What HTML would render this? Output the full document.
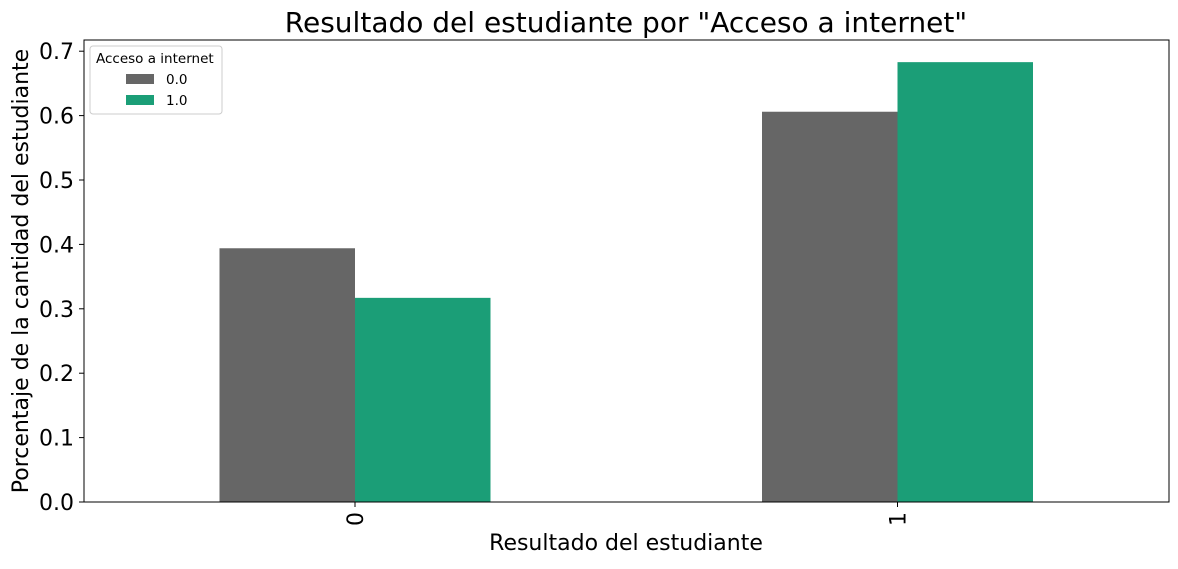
<!DOCTYPE html>
<html><head><meta charset="utf-8"><style>
body{margin:0;background:#fff;}
svg text{font-family:"DejaVu Sans","Liberation Sans",sans-serif;}
</style></head><body>
<svg id="chart" width="1178" height="564" xmlns="http://www.w3.org/2000/svg">
<rect width="1178" height="564" fill="#fff"/>
<text x="626" y="32" font-size="28" text-anchor="middle">Resultado del estudiante por "Acceso a internet"</text>
<g id="bars"></g>
<g id="yticks"></g>
<g id="xticks"></g>
<rect x="84" y="40" width="1085" height="462" fill="none" stroke="#000" stroke-width="1"/>
<text x="626" y="550" font-size="22" text-anchor="middle">Resultado del estudiante</text>
<text transform="translate(28,271) rotate(-90)" font-size="22" text-anchor="middle">Porcentaje de la cantidad del estudiante</text>
<g>
<rect x="90" y="46" width="132" height="68" fill="#fff" stroke="#ccc" rx="3"/>
<text x="96" y="63" font-size="13.5">Acceso a internet</text>
<rect x="126" y="74" width="28" height="10" fill="#666666"/>
<text x="166" y="84" font-size="13.5">0.0</text>
<rect x="126" y="95" width="28" height="10" fill="#1b9e77"/>
<text x="166" y="105" font-size="13.5">1.0</text>
</g>
</svg>
<script>
const categories = ["0", "1"];
const seriesNames = ["0.0", "1.0"];
const series0 = [0.394, 0.606];
const series1 = [0.317, 0.683];
const yTicks = [0.0, 0.1, 0.2, 0.3, 0.4, 0.5, 0.6, 0.7];
const NS = "http://www.w3.org/2000/svg";
const y0 = 502, yScale = 644;
const y = v => y0 - v * yScale;
const x = i => 355 + i * 542.5;
const colors = ["#666666", "#1b9e77"];
const bw = 135.5;
const bars = document.getElementById("bars");
[series0, series1].forEach((s, si) => {
  s.forEach((v, i) => {
    const r = document.createElementNS(NS, "rect");
    r.setAttribute("x", si === 0 ? x(i) - bw : x(i));
    r.setAttribute("y", y(v));
    r.setAttribute("width", bw);
    r.setAttribute("height", y0 - y(v));
    r.setAttribute("fill", colors[si]);
    
    
    bars.appendChild(r);
  });
});
const yt = document.getElementById("yticks");
yTicks.forEach(t => {
  const l = document.createElementNS(NS, "line");
  l.setAttribute("x1", 79); l.setAttribute("x2", 84);
  l.setAttribute("y1", y(t)); l.setAttribute("y2", y(t));
  l.setAttribute("stroke", "#000");
  
  
  yt.appendChild(l);
  const tx = document.createElementNS(NS, "text");
  tx.setAttribute("x", 74); tx.setAttribute("y", y(t) + 8);
  tx.setAttribute("font-size", "22"); tx.setAttribute("text-anchor", "end");
  tx.textContent = t.toFixed(1);
  
  
  yt.appendChild(tx);
});
const xt = document.getElementById("xticks");
categories.forEach((c, i) => {
  const l = document.createElementNS(NS, "line");
  l.setAttribute("x1", x(i)); l.setAttribute("x2", x(i));
  l.setAttribute("y1", 502); l.setAttribute("y2", 507);
  l.setAttribute("stroke", "#000");
  
  
  xt.appendChild(l);
  const tx = document.createElementNS(NS, "text");
  tx.setAttribute("transform", `translate(${x(i) + 8},512) rotate(-90)`);
  tx.setAttribute("font-size", "22"); tx.setAttribute("text-anchor", "end");
  tx.textContent = c;
  
  
  xt.appendChild(tx);
});
</script>
</body></html>
